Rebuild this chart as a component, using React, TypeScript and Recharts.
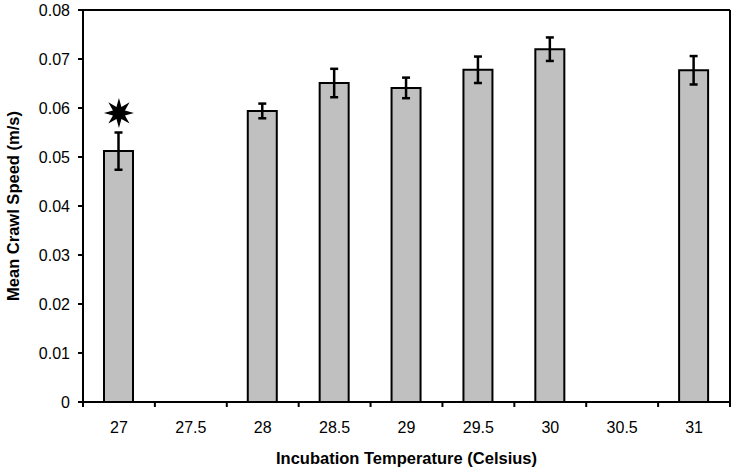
import { ComposedChart, Bar, XAxis, YAxis, ErrorBar, Scatter, Label } from 'recharts';

const temps = ['27', '27.5', '28', '28.5', '29', '29.5', '30', '30.5', '31'];
const speeds = [0.0512, null, 0.0594, 0.0651, 0.0641, 0.0678, 0.0720, null, 0.0677];
const errors = [0.0038, null, 0.0015, 0.0029, 0.0021, 0.0027, 0.0024, null, 0.0029];
const stars = [0.059, null, null, null, null, null, null, null, null];
const yTicks = [0, 0.01, 0.02, 0.03, 0.04, 0.05, 0.06, 0.07, 0.08];

const chartData = temps.map((t, i) => ({
    temp: t,
    speed: speeds[i],
    err: errors[i],
    star: stars[i],
}));

const W = 739;
const H = 472;
const M = { top: 9, right: 8, left: 0, bottom: 0 };
const Y_AXIS_W = 83;
const X_AXIS_H = 70;
const band = (W - M.right - 1 - Y_AXIS_W) / temps.length;
const FONT = 'Liberation Sans, Arial, sans-serif';

const XTick = (props: any) => {
    const { x, y, index } = props;
    const left = x - band / 2;
    return (
        <g>
            <line x1={left} y1={y - 8} x2={left} y2={y - 3} stroke="#000" strokeWidth={2} />
            {index === temps.length - 1 && (
                <line x1={left + band} y1={y - 8} x2={left + band} y2={y - 3} stroke="#000" strokeWidth={2} />
            )}
            <text x={x} y={y + 23} textAnchor="middle" fontSize={16} fontFamily={FONT} fill="#000">
                {props.payload.value}
            </text>
        </g>
    );
};

// 8-pointed star drawn above the 27 bar
const StarShape = (props: any) => {
    const { cx, cy } = props;
    if (cx == null || cy == null) return null;
    const pts: string[] = [];
    const n = 8;
    for (let i = 0; i < n * 2; i++) {
        const r = i % 2 === 0 ? 15 : 6.5;
        const a = (Math.PI * i) / n - Math.PI / 2;
        pts.push(`${cx + r * Math.cos(a)},${cy + r * Math.sin(a)}`);
    }
    return <polygon points={pts.join(' ')} fill="#000" />;
};

export default function App() {
    return (
        <div style={{ position: 'absolute', left: 0, top: 0, width: W, height: H, background: '#fff' }}>
            <ComposedChart width={W} height={H} data={chartData} margin={M}>
                <XAxis
                    dataKey="temp"
                    height={X_AXIS_H}
                    tick={<XTick />}
                    tickLine={false}
                    axisLine={{ stroke: '#000', strokeWidth: 2 }}
                    interval={0}
                >
                    <Label
                        value="Incubation Temperature (Celsius)"
                        position="insideBottom"
                        offset={8}
                        style={{ fontFamily: FONT, fontSize: 16.5, fontWeight: 'bold', fill: '#000' }}
                    />
                </XAxis>
                <XAxis xAxisId="top" dataKey="temp" orientation="top" tick={false} tickLine={false}
                    axisLine={{ stroke: '#000', strokeWidth: 2 }} height={1} />
                <YAxis
                    domain={[0, 0.08]}
                    ticks={yTicks}
                    width={Y_AXIS_W}
                    tick={{ fill: '#000', fontSize: 16, fontFamily: FONT }}
                    tickLine={{ stroke: '#000', strokeWidth: 2 }}
                    tickSize={5}
                    tickMargin={8}
                    axisLine={{ stroke: '#000', strokeWidth: 2 }}
                    tickFormatter={(v: number) => (v === 0 ? '0' : v.toFixed(2))}
                >
                    <Label
                        value="Mean Crawl Speed (m/s)"
                        angle={-90}
                        position="insideLeft"
                        offset={13}
                        style={{ fontFamily: FONT, fontSize: 16.5, fontWeight: 'bold', fill: '#000', textAnchor: 'middle' }}
                    />
                </YAxis>
                <YAxis yAxisId="right" orientation="right" domain={[0, 0.08]} tick={false} tickLine={false}
                    axisLine={{ stroke: '#000', strokeWidth: 2 }} width={1} />
                <Bar dataKey="speed" fill="#c0c0c0" stroke="#000" strokeWidth={2} barSize={29} isAnimationActive={false}>
                    <ErrorBar dataKey="err" width={4} stroke="#000" strokeWidth={2.5} direction="y" />
                </Bar>
                <Scatter dataKey="star" xAxisId="top" yAxisId="right" shape={<StarShape />} isAnimationActive={false} />
            </ComposedChart>
        </div>
    );
}
